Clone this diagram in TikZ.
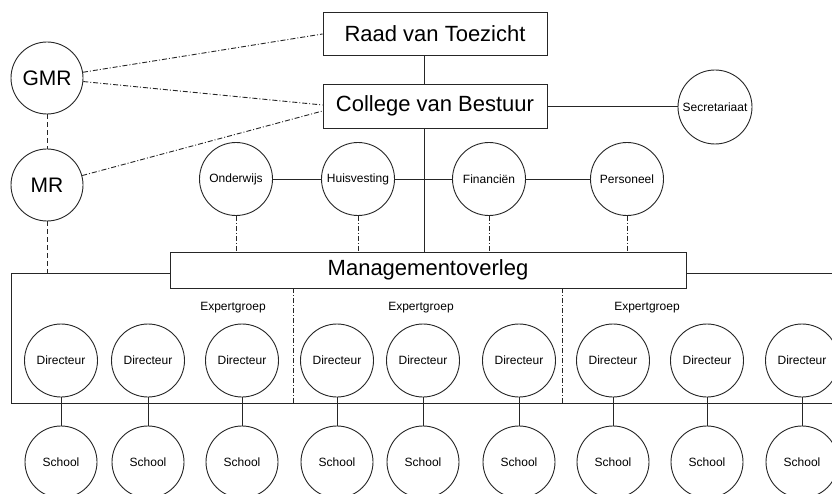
\documentclass[tikz,border=0pt]{standalone}
\usepackage{fontspec}
\setmainfont{Liberation Sans}
\begin{document}
\begin{tikzpicture}[x=1pt,y=-1pt,
 ln/.style={draw=black!85, line width=0.9pt},
 box/.style={ln, fill=white, rectangle, inner sep=0pt, font=\fontsize{22}{26}\selectfont},
 big/.style={circle, ln, fill=white, minimum size=72pt, inner sep=0pt, font=\fontsize{21}{25}\selectfont},
 sm/.style={circle, ln, fill=white, minimum size=73pt, inner sep=0pt, font=\fontsize{12}{14}\selectfont},
 lbl/.style={inner sep=0pt, font=\fontsize{12}{14}\selectfont},
 dd/.style={ln, dash pattern=on 5pt off 2pt on 1pt off 2pt},
 ds/.style={ln, dash pattern=on 5pt off 3pt},
]
\useasboundingbox (0,0) rectangle (832,494);
\clip (0,0) rectangle (832,494);
\fill[white] (0,0) rectangle (832,494);

% big rectangle
\coordinate (rtl) at (11,273);
\coordinate (rbl) at (11,403);
\coordinate (rbr) at (850,403);
\coordinate (rtr) at (850,273);
\draw[ln] (rtr) -- (rtl) -- (rbl) -- (rbr);

\node[box, minimum width=224pt, minimum height=43pt] (raad) at (435,34) {Raad van Toezicht};
\node[box, minimum width=224pt, minimum height=44pt] (coll) at (435,106) {College van Bestuur};
\node[box, minimum width=516pt, minimum height=36pt] (mgmt) at (428,270) {Managementoverleg};

\node[big] (gmr) at (47,78) {GMR};
\node[big] (mr) at (47,185) {MR};
\node[sm, minimum size=74pt] (sec) at (715,107) {Secretariaat};

\node[sm] (ond) at (236,179) {Onderwijs};
\node[sm] (huis) at (358,179) {Huisvesting};
\node[sm] (fin) at (489,179) {Financiën};
\node[sm] (pers) at (627,179) {Personeel};

\coordinate (v) at (424,0);
\draw[ln] (raad.south -| v) -- (coll.north -| v);
\draw[ln] (coll.south -| v) -- (mgmt.north -| v);
\draw[ln] (coll.east) -- (coll.east -| sec.west);
\draw[ln] (ond) -- (huis);
\draw[ln] (huis) -- (fin);
\draw[ln] (fin) -- (pers);

\draw[dd] (gmr) -- (raad.west);
\draw[dd] (gmr) -- ([yshift=1pt]coll.west);
\draw[dd] (mr) -- ([yshift=-5pt]coll.west);
\draw[ds] (gmr) -- (mr);
\draw[ds] (mr) -- (mr |- rtl);
\foreach \c in {ond,huis,fin,pers}{
  \draw[dd] (\c) -- (\c |- mgmt.north);
}

% separators
\coordinate (s1) at (293,403);
\coordinate (s2) at (562,403);
\draw[dd] (s1 |- mgmt.south) -- (s1);
\draw[dd] (s2 |- mgmt.south) -- (s2);

\node[lbl] (e1) at (233,308) {Expertgroep};
\node[lbl] (e2) at (421,308) {Expertgroep};
\node[lbl] (e3) at (647,308) {Expertgroep};

\foreach \x [count=\i] in {61,148,242,337,423,519,613,707,802}{
  \node[sm] (dir\i) at (\x,360.5) {Directeur};
  \node[sm, minimum size=72pt] (sch\i) at (\x,462) {School};
  \draw[ln] (dir\i) -- (sch\i);
}
\end{tikzpicture}
\end{document}
